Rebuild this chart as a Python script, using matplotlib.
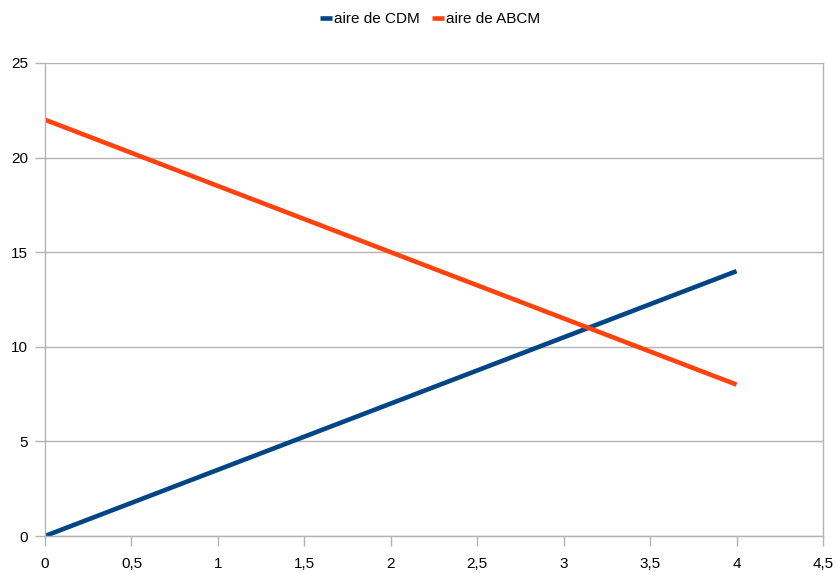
import matplotlib
matplotlib.use("Agg")
import matplotlib.pyplot as plt
from matplotlib.ticker import FuncFormatter

x = [0, 1, 2, 3, 4]
aire_cdm = [0, 3.5, 7, 10.5, 14]
aire_abcm = [22, 18.5, 15, 11.5, 8]

plt.rcParams['font.family'] = ['Liberation Sans', 'DejaVu Sans']

fig = plt.figure(figsize=(8.36, 5.73), dpi=100)
ax = fig.add_axes([45 / 836, 1 - 536 / 573, (823 - 45) / 836, (536 - 63) / 573])

grid_color = '#b3b3b3'
ax.plot(x, aire_cdm, color='#004586', lw=3.3, label='aire de CDM', solid_capstyle='butt')
ax.plot(x, aire_abcm, color='#ff420e', lw=3.3, label='aire de ABCM', solid_capstyle='butt')

ax.set_xlim(0, 4.5)
ax.set_ylim(0, 25)
ax.set_xticks([0, 0.5, 1, 1.5, 2, 2.5, 3, 3.5, 4, 4.5])
ax.set_yticks([0, 5, 10, 15, 20, 25])
fmt = FuncFormatter(lambda v, p: (f"{v:g}").replace('.', ','))
ax.xaxis.set_major_formatter(fmt)
ax.yaxis.set_major_formatter(fmt)

ax.yaxis.grid(True, color=grid_color, lw=1)
ax.set_axisbelow(True)
for side in ['left', 'right', 'bottom']:
    ax.spines[side].set_color(grid_color)
    ax.spines[side].set_linewidth(1)
ax.spines['top'].set_visible(False)
ax.tick_params(axis='both', colors=grid_color, length=7, width=1, labelsize=11,
               labelcolor='black')
ax.tick_params(axis='x', pad=8)
ax.tick_params(axis='y', pad=5)

fig.legend(loc='center', bbox_to_anchor=(430 / 836, 1 - 19 / 573), ncol=2, frameon=False,
           fontsize=11, handlelength=0.8, handletextpad=0.1, columnspacing=0.8)

fig.savefig('out.png', dpi=100, facecolor='white')
